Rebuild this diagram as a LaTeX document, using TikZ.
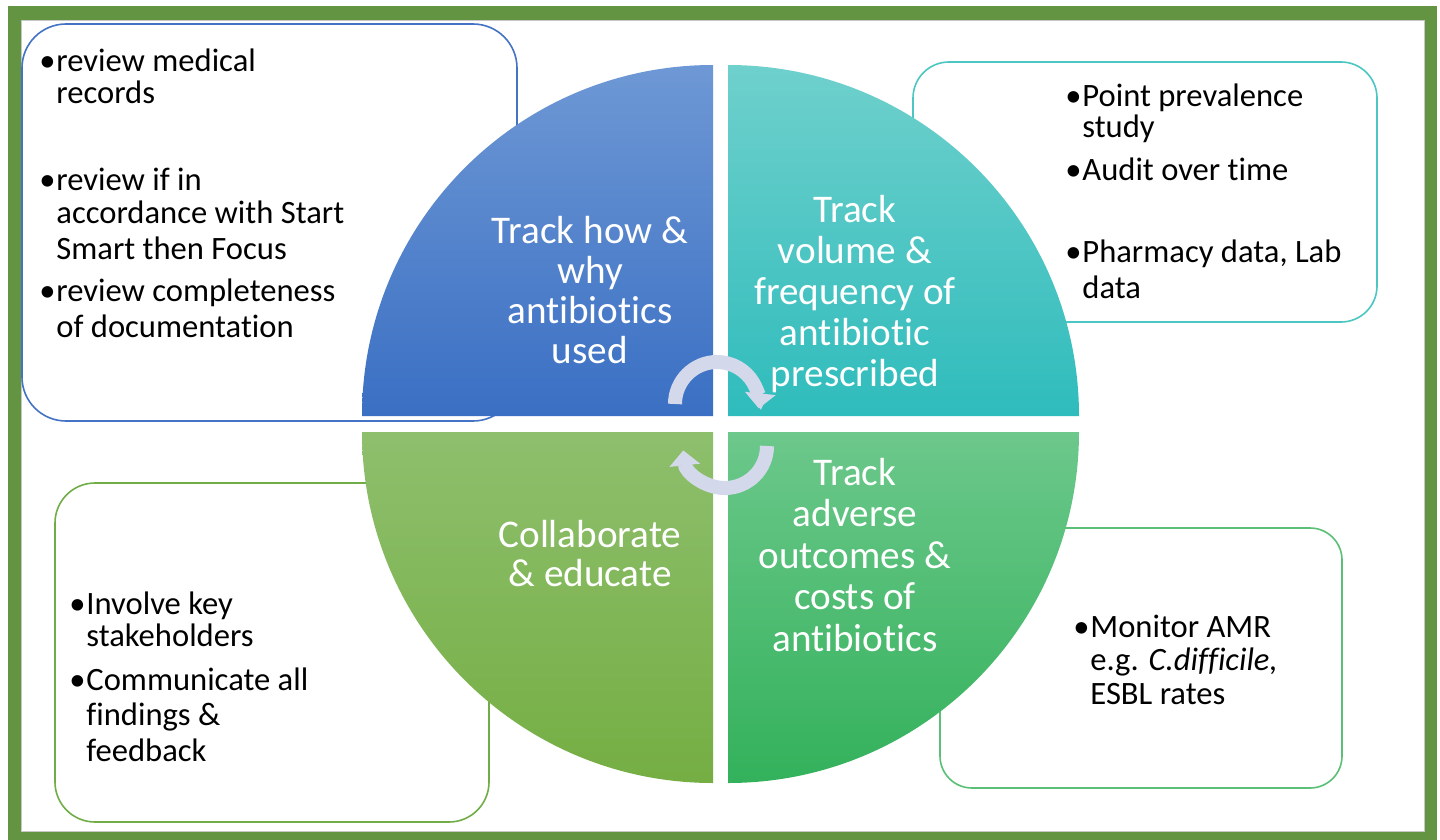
\documentclass[tikz,border=0pt]{standalone}
\usepackage{fontspec}
\setmainfont{Carlito}[Ligatures=NoCommon]
\usetikzlibrary{arrows.meta}
\definecolor{framegreen}{HTML}{629441}
\definecolor{tlline}{HTML}{4472C4}
\definecolor{trline}{HTML}{4BC6C2}
\definecolor{blline}{HTML}{70AD47}
\definecolor{brline}{HTML}{5CBF78}
\definecolor{tltop}{HTML}{6E98D5}
\definecolor{tlbot}{HTML}{3A6FC3}
\definecolor{trtop}{HTML}{6FD0CC}
\definecolor{trbot}{HTML}{2FBCBC}
\definecolor{bltop}{HTML}{8EBF6D}
\definecolor{blbot}{HTML}{75AE43}
\definecolor{brtop}{HTML}{6CC88B}
\definecolor{brbot}{HTML}{33B15B}
\definecolor{arrowc}{HTML}{D3D8EA}
\tikzset{
  infobox/.style={draw, fill=white, line width=0.8pt, inner sep=0pt},
  qtext/.style={text=white, font=\fontsize{19.6}{20}\selectfont, anchor=base, inner sep=0pt},
  btext/.style={text=black, font=\fontsize{16.3}{17}\selectfont, anchor=base west, inner sep=0pt},
  bul/.style={btext, anchor=base east},
  cycarrow/.style={draw=arrowc, line width=7pt, -{Triangle[width=15pt,length=7.5pt]}}
}
\begin{document}
\begin{tikzpicture}[x=0.5pt,y=-0.5pt]
\useasboundingbox (0,0) rectangle (1440,840);
\fill[white] (0,0) rectangle (1440,840);
\fill[framegreen] (8,6) rectangle (1437,840);
\fill[white] (21,20) rectangle (1424,831);
\draw[black!22, line width=0.4pt] (21,20) rectangle (1424,831);

% info boxes
\node[infobox, draw=tlline, minimum width=247.5pt, minimum height=198.5pt, rounded corners=22pt] (boxTL) at (269.5,222.5) {};
\node[infobox, draw=trline, minimum width=232pt, minimum height=130pt, rounded corners=18pt] (boxTR) at (1145,192) {};
\node[infobox, draw=blline, minimum width=217pt, minimum height=169.5pt, rounded corners=20pt] (boxBL) at (272,652.5) {};
\node[infobox, draw=brline, minimum width=201pt, minimum height=130pt, rounded corners=16pt] (boxBR) at (1141,658) {};

% quadrants
\shade[top color=tltop, bottom color=tlbot] (713,416) -- (362,416) arc[start angle=180,end angle=90,radius=175.5pt] -- cycle;
\shade[top color=trtop, bottom color=trbot] (728,416) -- (1079,416) arc[start angle=0,end angle=90,radius=175.5pt] -- cycle;
\shade[top color=bltop, bottom color=blbot] (713,432) -- (362,432) arc[start angle=180,end angle=270,radius=175.5pt] -- cycle;
\shade[top color=brtop, bottom color=brbot] (728,432) -- (1079,432) arc[start angle=0,end angle=-90,radius=175.5pt] -- cycle;

% quadrant texts
\foreach \t [count=\i] in {Track how \&, why, antibiotics, used}
  \node[qtext] (qa\i) at (590,{243+(\i-1)*40}) {\t};
\foreach \t [count=\i] in {Track, volume \&, frequency of, antibiotic, prescribed}
  \node[qtext] (qb\i) at (855,{222+(\i-1)*41}) {\t};
\foreach \t [count=\i] in {Collaborate, \& educate}
  \node[qtext] (qc\i) at (590,{547+(\i-1)*39}) {\t};
\foreach \t [count=\i] in {Track, adverse, outcomes \&, costs of, antibiotics}
  \node[qtext] (qd\i) at (855,{485+(\i-1)*41.5}) {\t};

% cycle arrows
\coordinate (arA) at (675,404);
\coordinate (arB) at (767,446);
\draw[cycarrow] (arA) arc[start angle=180,end angle=-6,radius=21pt];
\draw[cycarrow] (arB) arc[start angle=0,end angle=-174,radius=21pt];

% TL box text
\node[bul] (ba1) at (56,72) {•};
\node[btext] (ta1) at (56,72) {review medical};
\node[btext] (ta2) at (56,104) {records};
\node[bul] (ba2) at (56,191) {•};
\node[btext] (ta3) at (56,191) {review if in};
\node[btext] (ta4) at (56,223) {accordance with Start};
\node[btext] (ta5) at (56,259) {Smart then Focus};
\node[bul] (ba3) at (56,301) {•};
\node[btext] (ta6) at (56,301) {review completeness};
\node[btext] (ta7) at (56,337) {of documentation};

% TR box text
\node[bul] (bb1) at (1082,106) {•};
\node[btext] (tb1) at (1082,106) {Point prevalence};
\node[btext] (tb2) at (1082,138) {study};
\node[bul] (bb2) at (1082,180) {•};
\node[btext] (tb3) at (1082,180) {Audit over time};
\node[bul] (bb3) at (1082,262) {•};
\node[btext] (tb4) at (1082,262) {Pharmacy data, Lab};
\node[btext] (tb5) at (1082,298) {data};

% BL box text
\node[bul] (bc1) at (86,614) {•};
\node[btext] (tc1) at (86,614) {Involve key};
\node[btext] (tc2) at (86,646) {stakeholders};
\node[bul] (bc2) at (86,690) {•};
\node[btext] (tc3) at (86,690) {Communicate all};
\node[btext] (tc4) at (86,725) {findings \&};
\node[btext] (tc5) at (86,761) {feedback};

% BR box text
\node[bul] (bd1) at (1090,637) {•};
\node[btext] (td1) at (1090,637) {Monitor AMR};
\node[btext] (td2) at (1090,670) {e.g. \textit{C.difficile,}};
\node[btext] (td3) at (1090,704) {ESBL rates};
\end{tikzpicture}
\end{document}
